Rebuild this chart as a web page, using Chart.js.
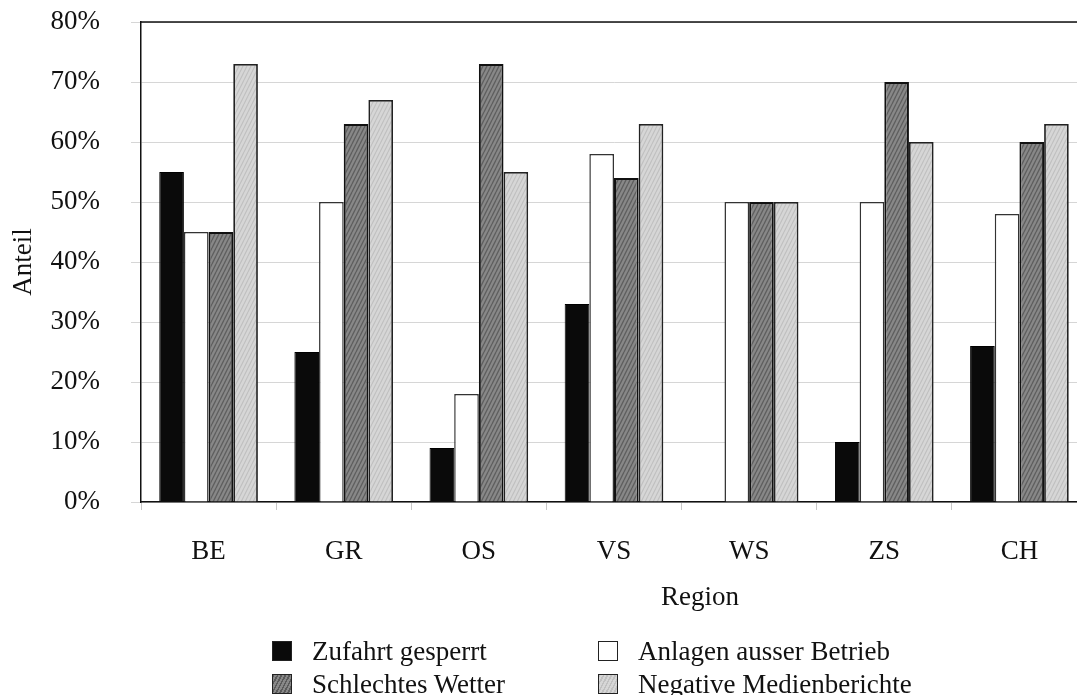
<!DOCTYPE html>
<html><head><meta charset="utf-8">
<script src="https://cdn.jsdelivr.net/npm/chart.js@4.4.1/dist/chart.umd.min.js"></script>
<style>
html,body{margin:0;padding:0;background:#fff;overflow:hidden;width:1077px;height:695px;}
#wrap{position:relative;width:1077px;height:695px;overflow:hidden;background:#fff;}
canvas{position:absolute;left:0;top:0;}
.leg{position:absolute;height:30px;font-family:'Liberation Serif','Times New Roman',serif;font-size:27px;color:#111;display:flex;align-items:center;white-space:nowrap;}
.sw{width:20px;height:20px;border:1px solid #222;margin-right:20px;box-sizing:border-box;flex:none;}
</style></head><body>
<div id="wrap"><canvas id="c" width="1100" height="695"></canvas><div id="legend"></div></div>
<script>
const regions = ['BE','GR','OS','VS','WS','ZS','CH'];
const seriesNames = ['Zufahrt gesperrt','Anlagen ausser Betrieb','Schlechtes Wetter','Negative Medienberichte'];
const zufahrtGesperrt       = [55, 25,  9, 33,  0, 10, 26];
const anlagenAusserBetrieb  = [45, 50, 18, 58, 50, 50, 48];
const schlechtesWetter      = [45, 63, 73, 54, 50, 70, 60];
const negativeMedienberichte= [73, 67, 55, 63, 50, 60, 63];
const yTicks = [0,10,20,30,40,50,60,70,80];
const xTitle = 'Region';
const yTitle = 'Anteil';

function makePattern(base, stroke, alpha, lw){
  const p = document.createElement('canvas'); p.width = 8; p.height = 8;
  const g = p.getContext('2d');
  g.fillStyle = base; g.fillRect(0,0,8,8);
  g.strokeStyle = stroke; g.globalAlpha = alpha; g.lineWidth = lw;
  g.beginPath();
  for (let k=-8; k<=12; k+=4){ g.moveTo(k,8); g.lineTo(k+4,0); }
  g.stroke();
  return document.createElement('canvas').getContext('2d').createPattern(p,'repeat');
}
const darkPat = makePattern('#888888','#3c3c3c',0.55,1.3);
const lightPat = makePattern('#d6d6d6','#b0b0b0',0.6,1.1);

const FONT = {family:"'Liberation Serif','Times New Roman',serif", size:27};
const swatches = ['#0a0a0a','#ffffff','#888888','#d6d6d6'];

const extras = {
  id:'extras',
  afterDraw(chart){
    const {ctx, chartArea:a} = chart;
    ctx.save(); ctx.strokeStyle='#111'; ctx.lineWidth=1.5;
    ctx.beginPath(); ctx.moveTo(a.left, a.top); ctx.lineTo(a.right, a.top); ctx.stroke();
    ctx.fillStyle='#111'; ctx.font = FONT.size+"px "+FONT.family;
    ctx.textAlign='center'; ctx.textBaseline='middle';
    ctx.fillText(xTitle, 700, 598);
    ctx.restore();
  }
};

new Chart(document.getElementById('c'), {
  type:'bar',
  data:{
    labels: regions,
    datasets:[
      {label:seriesNames[0], data:zufahrtGesperrt, backgroundColor:'#0a0a0a', borderColor:'#000', borderWidth:1},
      {label:seriesNames[1], data:anlagenAusserBetrieb, backgroundColor:'#ffffff', borderColor:'#333', borderWidth:1.5},
      {label:seriesNames[2], data:schlechtesWetter, backgroundColor:darkPat, borderColor:'#111', borderWidth:2},
      {label:seriesNames[3], data:negativeMedienberichte, backgroundColor:lightPat, borderColor:'#222', borderWidth:1.8}
    ]
  },
  options:{
    responsive:false, animation:false,
    layout:{padding:{left:0, right:13, top:22, bottom:73}},
    datasets:{bar:{categoryPercentage:0.73, barPercentage:1}},
    plugins:{legend:{display:false}, tooltip:{enabled:false}},
    scales:{
      x:{
        grid:{drawOnChartArea:false, drawTicks:true, tickLength:8, color:'#c8c8c8', offset:true},
        border:{display:true, color:'#111', width:1.5},
        ticks:{font:FONT, color:'#111', padding:26},
        afterFit(s){ s.height = 120; s.paddingLeft = 0; s.paddingRight = 0; }
      },
      y:{
        min:0, max:80,
        afterBuildTicks(s){ s.ticks = yTicks.map(v=>({value:v})); },
        ticks:{font:FONT, color:'#111', padding:31, callback:v=>v+'%'},
        grid:{color:'#d6d6d6', tickLength:10, lineWidth:1},
        border:{display:true, color:'#111', width:1.5},
        title:{display:true, text:yTitle, font:FONT, color:'#111', padding:{top:8,bottom:0}},
        afterFit(s){ s.width = 141; s.paddingTop = 0; s.paddingBottom = 0; }
      }
    }
  },
  plugins:[extras]
});

const legendPos = [[272,651],[598,651],[272,684],[598,684]];
const lg = document.getElementById('legend');
seriesNames.forEach((n,i)=>{
  const d = document.createElement('div'); d.className='leg';
  d.style.left = legendPos[i][0]+'px'; d.style.top = (legendPos[i][1]-15)+'px';
  const sw = document.createElement('span'); sw.className='sw';
  sw.style.background = swatches[i];
  if (i===2) sw.style.backgroundImage = 'repeating-linear-gradient(-62deg,#888888 0 2px,#5a5a5a 2px 3.5px)';
  if (i===3) sw.style.backgroundImage = 'repeating-linear-gradient(-62deg,#d6d6d6 0 2px,#c0c0c0 2px 3.5px)';
  const t = document.createElement('span'); t.textContent = n;
  d.appendChild(sw); d.appendChild(t); lg.appendChild(d);
});
</script>
</body></html>
